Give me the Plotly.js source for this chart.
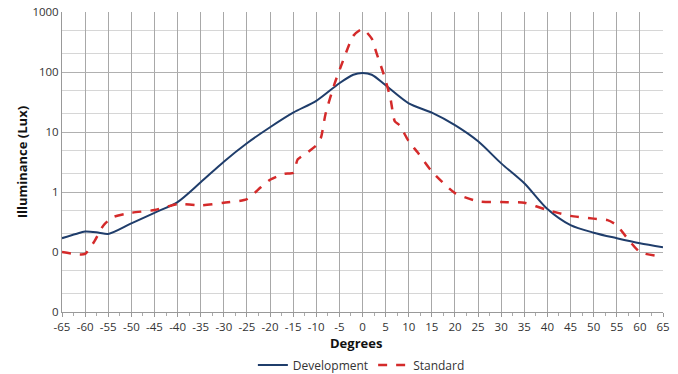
<!DOCTYPE html>
<html><head><meta charset="utf-8">
<script src="https://cdn.plot.ly/plotly-3.0.1.min.js"></script>
<style>html,body{margin:0;padding:0;background:#fff}#c{width:678px;height:374px}</style>
</head><body><div id="c"></div>
<script>
const devX = [-65,-62,-60,-57,-55,-50,-45,-40,-35,-30,-25,-20,-15,-10,-5,-2,0,2,5,10,15,20,25,30,35,40,45,50,55,60,65];
const devY = [0.17,0.2,0.22,0.21,0.2,0.3,0.45,0.68,1.45,3.2,6.5,12,21,33,65,90,96,90,60,30,21,13,7,3.0,1.4,0.52,0.28,0.21,0.17,0.14,0.12];
const stdX = [-65,-62,-60,-58,-56,-54,-50,-45,-40,-35,-30,-25,-22,-20,-17,-15,-14,-12,-10,-9,-8,-6,-4,-2,0,2,3,4.5,6,7,8,10,12,15,20,25,30,35,40,45,50,53,55,57,60,65];
const stdY = [0.1,0.092,0.093,0.15,0.28,0.38,0.45,0.5,0.63,0.6,0.66,0.76,1.2,1.6,2.0,2.1,3.5,4.5,6,8,20,65,170,400,520,360,210,96,38,15,13,7,4.5,2.2,0.96,0.7,0.68,0.66,0.5,0.4,0.36,0.34,0.28,0.18,0.1,0.083];
const xTicks = [-65,-60,-55,-50,-45,-40,-35,-30,-25,-20,-15,-10,-5,0,5,10,15,20,25,30,35,40,45,50,55,60,65];
const yTickVals = [0.01,0.1,1,10,100,1000];
const yTickText = ["0","0","1","10","100","1000"];
const xTitle = "Degrees";
const yTitle = "Illuminance (Lux)";

const font = "Open Sans, Liberation Sans, sans-serif";
Plotly.newPlot('c', [
  {x: devX, y: devY, name: 'Development', mode: 'lines', line: {color: '#1f3d6b', width: 2, shape: 'spline', smoothing: 0.8}},
  {x: stdX, y: stdY, name: 'Standard', mode: 'lines', line: {color: '#d42a2a', width: 2.5, dash: 'dash', shape: 'spline', smoothing: 0.6}}
], {
  width: 678, height: 374,
  margin: {l: 62, r: 15, t: 12, b: 62},
  paper_bgcolor: '#fff', plot_bgcolor: '#fff',
  font: {family: font, size: 11, color: '#333'},
  showlegend: true,
  legend: {orientation: 'h', x: 0.533, xref: 'container', xanchor: 'center', y: 0.024, yref: 'container', yanchor: 'middle',
           font: {size: 12, color: '#333'}, itemwidth: 30, tracegroupgap: 0},
  annotations: [
    {text: '<b>' + xTitle + '</b>', xref: 'paper', yref: 'paper', x: 0.489, y: -0.103, xanchor: 'center', yanchor: 'middle',
     showarrow: false, font: {size: 13, color: '#111'}},
    {text: '<b>' + yTitle + '</b>', xref: 'paper', yref: 'paper', x: -0.066, y: 0.5, xanchor: 'center', yanchor: 'middle',
     textangle: -90, showarrow: false, font: {size: 13, color: '#111'}}
  ],
  xaxis: {
    range: [-65, 65], tickvals: xTicks, ticktext: xTicks.map(String),
    showgrid: true, gridcolor: '#a8a8a8', gridwidth: 1,
    showline: true, linecolor: '#999', ticks: 'outside', ticklen: 4, tickcolor: '#999',
    minor: {dtick: 2.5, tick0: 0, ticks: 'outside', ticklen: 3, tickcolor: '#aaa', showgrid: false},
    zeroline: false, tickfont: {size: 11.5, color: '#333'}, automargin: false
  },
  yaxis: {
    type: 'log', range: [-2, 3], tickvals: yTickVals, ticktext: yTickText,
    showgrid: true, gridcolor: '#b0b0b0', gridwidth: 1,
    minor: {showgrid: true, gridcolor: '#d6d6d6', gridwidth: 1, ticks: ''},
    showline: true, linecolor: '#999', ticks: '', zeroline: false,
    tickfont: {size: 11.5, color: '#333'}, automargin: false
  }
}, {displayModeBar: false, staticPlot: true});
</script></body></html>
